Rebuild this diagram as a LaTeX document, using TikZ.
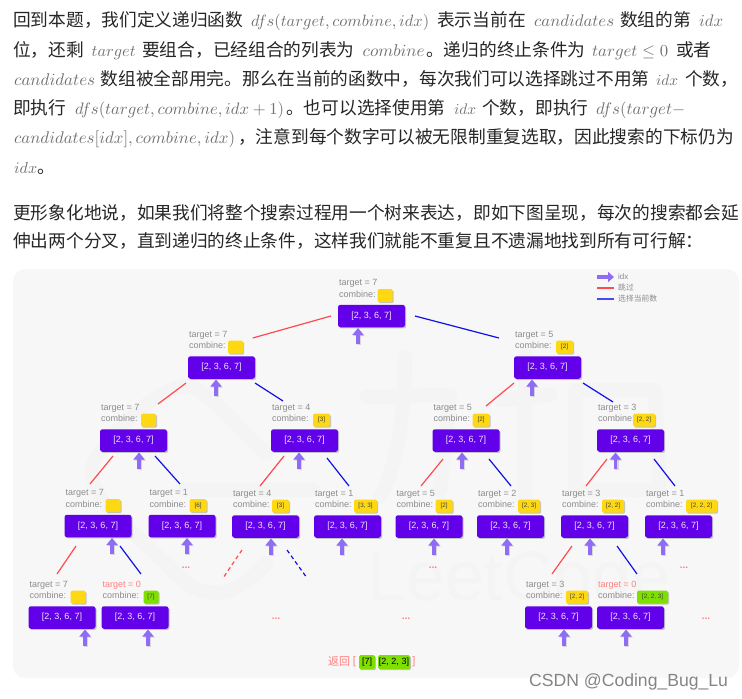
\documentclass[tikz,border=0pt]{standalone}
\usepackage[no-math]{fontspec}
\usepackage{graphicx}
\setmainfont{Liberation Sans}
\newfontfamily\cjk{Noto Sans CJK SC}
\usetikzlibrary{arrows.meta,shadows,calc}
\definecolor{panel}{HTML}{F7F7F7}
\definecolor{wmark}{HTML}{F4F4F4}
\definecolor{nodepurple}{HTML}{6200EA}
\definecolor{arrowpurple}{HTML}{8F6CF6}
\definecolor{lblgray}{HTML}{8C8C8C}
\definecolor{pinkred}{HTML}{FF7F7F}
\definecolor{linered}{HTML}{FF4A50}
\definecolor{lineblue}{HTML}{1010E8}
\definecolor{legred}{HTML}{FF4A50}
\definecolor{legblue}{HTML}{4A4AF5}
\definecolor{boxyellow}{HTML}{FFD814}
\definecolor{boxgreen}{HTML}{7FE000}
\definecolor{bodytext}{HTML}{262626}
\definecolor{mathgray}{HTML}{707070}
\tikzset{
  softshadow/.style={drop shadow={shadow xshift=1.2pt,shadow yshift=-1.2pt,opacity=.3,fill=black!70}},
  arraybox/.style={fill=nodepurple,rounded corners=2.5pt,minimum width=67pt,minimum height=22.5pt,inner sep=0pt,text=white!90!nodepurple,font=\fontsize{9}{10}\selectfont,softshadow},
  lbl/.style={text=lblgray,inner sep=0pt,anchor=base west,font=\fontsize{9}{10}\selectfont},
  lblhot/.style={lbl,text=pinkred},
  comb/.style={rounded corners=1.5pt,minimum height=13pt,inner sep=0pt,text=black!75,font=\fontsize{6.3}{7}\selectfont,softshadow},
  redline/.style={draw=linered,line width=1.2pt},
  blueline/.style={draw=lineblue,line width=1.2pt},
  idxarrow/.style={draw=arrowpurple,line width=3.8pt,-{Triangle[length=7pt,width=11pt]}},
  idxshade/.style={draw=black,opacity=.13,line width=3.8pt,-{Triangle[length=7pt,width=11pt]}},
  dots/.style={text=pinkred,inner sep=0pt,font=\bfseries\fontsize{10}{10}\selectfont},
  ztxt/.style={inner sep=0pt,anchor=base west,text=bodytext,font=\cjk\fontsize{17.7}{20}\selectfont},
  zmth/.style={inner sep=0pt,anchor=base west,text=mathgray},
  legendtxt/.style={text=lblgray,inner sep=0pt,anchor=west,font=\fontsize{8}{9}\selectfont},
  wm/.style={draw=wmark,line width=14pt,line cap=round,line join=round},
}
\newcommand{\tnode}[5][lbl]{%
  \node[arraybox] (#2) at (#3,#4) {[2, 3, 6, 7]};
  \node[#1] (#2-t) at ([shift={(-32.5,-30.5)}]#2.center) {target = #5};
  \node[lbl] (#2-c) at ([shift={(-32.5,-19)}]#2.center) {combine:};
}
\newcommand{\cbox}[5]{%
  \node[comb,fill=#5,minimum width=#3pt] (#1-b) at ([shift={({-33.5+#2+#3/2},-20.5)}]#1.center) {#4};
}
\newcommand{\conn}[7]{\draw[#1] ([shift={(#3,#4)}]#2.center) -- ([shift={(#6,#7)}]#5.center);}
\newcommand{\idxa}[2]{%
  \draw[idxshade] ([shift={(#2+1.2,29.2)}]#1.center) -- ([shift={(#2+1.2,13.2)}]#1.center);
  \draw[idxarrow] ([shift={(#2,28)}]#1.center) -- ([shift={(#2,12)}]#1.center);}
\newcommand{\ctx}[4]{\node[ztxt] (#1) at (#2,#3+6.5) {#4};}
\newcommand{\mth}[5]{\node[zmth] (#1) at (#2,#3+6.5) {\resizebox{#4pt}{!}{$#5$}};}
\begin{document}
\begin{tikzpicture}[x=1pt,y=-1pt]
\useasboundingbox (0,0) rectangle (742,699);
\fill[white] (0,0) rectangle (742,699);
% body text
\ctx{l1a}{13}{20}{回到本题，我们定义递归函数}
\mth{l1b}{251}{20}{178}{dfs(target, combine, idx)}
\ctx{l1c}{437}{20}{表示当前在}
\mth{l1d}{534}{20}{80}{candidates}
\ctx{l1e}{620}{20}{数组的第}
\mth{l1f}{699}{20}{24}{idx}
\ctx{l2a}{13}{49.5}{位，还剩}
\mth{l2b}{91.5}{49.5}{44}{target}
\ctx{l2c}{142}{49.5}{要组合，已经组合的列表为}
\mth{l2d}{362.5}{49.5}{62}{combine}
\ctx{l2e}{426}{49.5}{。递归的终止条件为}
\mth{l2f}{592}{49.5}{76}{target \leq 0}
\ctx{l2g}{676}{49.5}{或者}
\mth{l3a}{14}{79}{81}{candidates}
\ctx{l3b}{100.5}{79}{数组被全部用完。那么在当前的函数中，每次我们可以选择跳过不用第}
\mth{l3c}{656}{79}{22}{idx}
\ctx{l3d}{685}{79}{个数，}
\ctx{l4a}{13}{108}{即执行}
\mth{l4b}{75}{108}{209}{dfs(target, combine, idx+1)}
\ctx{l4c}{286}{108}{。也可以选择使用第}
\mth{l4d}{454}{108}{22}{idx}
\ctx{l4e}{482}{108}{个数，即执行}
\mth{l4f}{596}{108}{89}{dfs(target-}
\mth{l5a}{14}{137}{221}{candidates[idx], combine, idx)}
\ctx{l5b}{238}{137}{，注意到每个数字可以被无限制重复选取，因此搜索的下标仍为}
\mth{l6a}{14}{167}{23}{idx}
\ctx{l6b}{37}{167}{。}
\ctx{l7a}{13}{213}{更形象化地说，如果我们将整个搜索过程用一个树来表达，即如下图呈现，每次的搜索都会延}
\ctx{l8a}{13}{241}{伸出两个分叉，直到递归的终止条件，这样我们就能不重复且不遗漏地找到所有可行解：}
% panel
\fill[panel,rounded corners=12pt] (13,269) rectangle (739,678);
% faint watermark
\draw[wm] (266,453) .. controls (240,430) and (210,390) .. (186,385) .. controls (160,390) and (120,420) .. (95,460) .. controls (85,480) and (100,500) .. (120,520) -- (180,577) .. controls (200,600) and (235,600) .. (266,563);
\draw[wm] (185,490) -- (313,490);
\draw[wm] (367,397) -- (450,395) -- (440,490);
\draw[wm] (405,357) .. controls (405,420) and (395,470) .. (380,497);
\draw[wm] (575,390) -- (655,390) -- (660,490) -- (575,490) -- cycle;
\draw[wm] (500,400) -- (550,395) (525,355) -- (525,500);
\node[text=wmark,inner sep=0pt,anchor=base west,font=\fontsize{70}{70}\selectfont] (wmtext) at (367,600) {LeetCode};
% tree nodes
\tnode{root}{371.5}{316}{7}
\tnode{a}{221.5}{367.5}{7}
\tnode{b}{547.5}{367.5}{5}
\tnode{aa}{133.5}{440.5}{7}
\tnode{ab}{304.5}{440.5}{4}
\tnode{ba}{466}{440.5}{5}
\tnode{bb}{630.5}{440.5}{3}
\tnode{aaa}{98}{526}{7}
\tnode{aab}{182}{526}{1}
\tnode{aba}{265.5}{526.5}{4}
\tnode{abb}{347.5}{526.5}{1}
\tnode{baa}{429}{526.5}{5}
\tnode{bab}{510.5}{526.5}{2}
\tnode{bba}{594.5}{526.5}{3}
\tnode{bbb}{678.5}{526.5}{1}
\tnode{aaaa}{62}{617.5}{7}
\tnode[lblhot]{aaab}{135}{617.5}{0}
\tnode{bbaa}{558.5}{617.5}{3}
\tnode[lblhot]{bbab}{630.5}{617.5}{0}
% combine boxes
\cbox{root}{39.5}{15}{}{boxyellow}
\cbox{a}{40}{15}{}{boxyellow}
\cbox{b}{42}{17}{[2]}{boxyellow}
\cbox{aa}{41}{15}{}{boxyellow}
\cbox{ab}{42}{17}{[3]}{boxyellow}
\cbox{ba}{40}{17}{[2]}{boxyellow}
\cbox{bb}{36}{22}{[2, 2]}{boxyellow}
\cbox{aaa}{41}{15}{}{boxyellow}
\cbox{aab}{41}{17}{[6]}{boxyellow}
\cbox{aba}{40}{17}{[3]}{boxyellow}
\cbox{abb}{40}{23}{[3, 3]}{boxyellow}
\cbox{baa}{40}{17}{[2]}{boxyellow}
\cbox{bab}{41}{22}{[2, 3]}{boxyellow}
\cbox{bba}{41}{22}{[2, 2]}{boxyellow}
\cbox{bbb}{41}{31}{[2, 2, 2]}{boxyellow}
\cbox{aaaa}{42}{15}{}{boxyellow}
\cbox{aaab}{42}{15}{[7]}{boxgreen}
\cbox{bbaa}{41}{22}{[2, 2]}{boxyellow}
\cbox{bbab}{40}{31}{[2, 2, 3]}{boxgreen}
% connectors
\conn{redline}{root}{-40.5}{0}{a}{31.2}{-29.5}
\conn{blueline}{root}{43.5}{0}{b}{-48.5}{-29.5}
\conn{redline}{a}{-35.5}{15.5}{aa}{24.5}{-36.5}
\conn{blueline}{a}{33.5}{15.5}{ab}{-21.5}{-39.5}
\conn{redline}{b}{-33.5}{15.5}{ba}{20}{-34.5}
\conn{blueline}{b}{35.5}{15.5}{bb}{-17.5}{-38.5}
\conn{redline}{aa}{-20.5}{15.5}{aaa}{-8}{-42}
\conn{blueline}{aa}{21.5}{15.5}{aab}{-2}{-42}
\conn{redline}{ab}{-20.5}{15.5}{aba}{-5.5}{-40.5}
\conn{blueline}{ab}{22.5}{17.5}{abb}{1.5}{-40.5}
\conn{redline}{ba}{-23}{18.5}{baa}{-8}{-40.5}
\conn{blueline}{ba}{23}{18.5}{bab}{.5}{-40.5}
\conn{redline}{bb}{-23.5}{18.5}{bba}{-8.5}{-40.5}
\conn{blueline}{bb}{23.5}{18.5}{bbb}{-3.5}{-40.5}
\conn{redline}{aaa}{-22}{20}{aaaa}{-5}{-43.5}
\conn{blueline}{aaa}{22}{20}{aaab}{6}{-43.5}
\conn{redline}{bba}{-22.5}{19.5}{bbaa}{-6.5}{-43.5}
\conn{blueline}{bba}{22.5}{19.5}{bbab}{6.5}{-43.5}
\coordinate (fr) at (223,578);
\coordinate (fb) at (307,578);
\draw[redline,dash pattern=on 4pt off 3pt] ([shift={(-23.5,23.5)}]aba.center) -- (fr);
\draw[blueline,dash pattern=on 4pt off 3pt] ([shift={(21.5,23.5)}]aba.center) -- (fb);
% idx arrows
\idxa{root}{-13.5}\idxa{a}{-5.5}\idxa{b}{-15.5}
\idxa{aa}{5.5}\idxa{ab}{-5.5}\idxa{ba}{-4}\idxa{bb}{-15}
\idxa{aaa}{14}\idxa{aab}{5}\idxa{aba}{5.5}\idxa{abb}{-5.5}
\idxa{baa}{5}\idxa{bab}{-3.5}\idxa{bba}{-4.5}\idxa{bbb}{-15.5}
\idxa{aaaa}{23}\idxa{aaab}{13}\idxa{bbaa}{5.5}\idxa{bbab}{-4.5}
% dots
\node[dots] (d1) at (186,568) {...};
\node[dots] (d2) at (276,619) {...};
\node[dots] (d3) at (433,568) {...};
\node[dots] (d4) at (406,619) {...};
\node[dots] (d5) at (684,568) {...};
\node[dots] (d6) at (706,619) {...};
% legend
\coordinate (la1) at (597,277); \coordinate (la2) at (614,277);
\coordinate (lb1) at (597,288); \coordinate (lb2) at (614,288);
\coordinate (lc1) at (597,299); \coordinate (lc2) at (614,299);
\draw[draw=arrowpurple,line width=3.5pt,-{Triangle[length=6pt,width=10pt]}] (la1) -- (la2);
\draw[draw=legred,line width=1.2pt] (lb1) -- (lb2);
\draw[draw=legblue,line width=1.2pt] (lc1) -- (lc2);
\node[legendtxt] (lt1) at (618,277) {idx};
\node[legendtxt,font=\cjk\fontsize{7.8}{9}\selectfont] (lt2) at (618,288) {跳过};
\node[legendtxt,font=\cjk\fontsize{7.8}{9}\selectfont] (lt3) at (618,299) {选择当前数};
% result row
\node[inner sep=0pt,text=pinkred,anchor=west,font=\cjk\fontsize{11}{12}\selectfont] (ret) at (328,661.5) {返回};
\node[inner sep=0pt,text=pinkred,font=\fontsize{11}{12}\selectfont] (brl) at (354.5,661.5) {[};
\node[comb,fill=boxgreen,minimum width=16pt,minimum height=14pt,text=black,font=\fontsize{9}{10}\selectfont] (r1) at (367,662) {[7]};
\node[comb,fill=boxgreen,minimum width=32pt,minimum height=14pt,text=black,font=\fontsize{9}{10}\selectfont] (r2) at (394,662) {[2, 2, 3]};
\node[inner sep=0pt,text=pinkred,font=\fontsize{11}{12}\selectfont] (brr) at (414,661.5) {]};
% site mark
\node[inner sep=1pt,anchor=base west,text=black!48,font=\fontsize{17.6}{20}\selectfont] (csdn) at (528,686) {CSDN @Coding\_Bug\_Lu};
\end{tikzpicture}
\end{document}
